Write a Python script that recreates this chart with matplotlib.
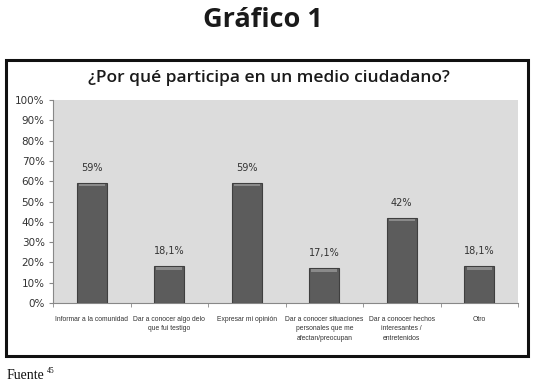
import matplotlib.pyplot as plt
from matplotlib.patches import Rectangle
import numpy as np

# data
categorias = [
    "Informar a la comunidad",
    "Dar a conocer algo delo\nque fui testigo",
    "Expresar mi opinión",
    "Dar a conocer situaciones\npersonales que me\nafectan/preocupan",
    "Dar a conocer hechos\ninteresantes /\nentretenidos",
    "Otro",
]
valores = [59, 18.1, 59, 17.1, 42, 18.1]
etiquetas = ["59%", "18,1%", "59%", "17,1%", "42%", "18,1%"]
yticks = list(range(0, 101, 10))

fig = plt.figure(figsize=(5.37, 3.89), dpi=100)
fig.patch.set_facecolor("white")

# page title
fig.text(0.49, 0.948, "Gráfico 1", ha="center", va="center",
         fontsize=19.5, fontweight="bold", family="Open Sans", color="#1a1a1a")

# black frame around the chart
frame = Rectangle((0.012, 0.085), 0.971, 0.761, transform=fig.transFigure,
                  fill=False, edgecolor="#111111", linewidth=2.2)
fig.patches.append(frame)

fig.text(0.5, 0.800, "¿Por qué participa en un medio ciudadano?", ha="center",
         va="center", fontsize=12.5, fontweight="semibold", family="Open Sans",
         color="#1a1a1a")

ax = fig.add_axes([0.0987, 0.221, 0.866, 0.522])
ax.set_facecolor("#dcdcdc")

x = np.arange(len(categorias))
ax.bar(x, valores, width=0.39, color="#5c5c5c", edgecolor="#3f3f3f",
       linewidth=0.8, zorder=3)
# lighter rounded cap like the original 3D bars
ax.bar(x, [1.2] * len(valores), bottom=np.array(valores) - 1.6, width=0.33,
       color="#8a8a8a", linewidth=0, zorder=4)

for xi, v, lab in zip(x, valores, etiquetas):
    ax.text(xi, v + 5, lab, ha="center", va="bottom", fontsize=7,
            family="DejaVu Sans", color="#333333")

ax.set_xlim(-0.5, len(categorias) - 0.5)
ax.set_ylim(0, 100)
ax.set_yticks(yticks)
ax.set_yticklabels([f"{t}%" for t in yticks], fontsize=7.5, color="#333333")

ax.set_xticks(x)
ax.set_xticklabels(categorias, fontsize=4.9, color="#333333", linespacing=1.5,
                   family="Liberation Sans")
ax.set_xticks(np.arange(-0.5, len(categorias)), minor=True)
ax.tick_params(axis="x", which="major", length=0, pad=9)
ax.tick_params(axis="x", which="minor", length=3, color="#888888")
ax.tick_params(axis="y", length=3, color="#888888", pad=3)

for s in ["top", "right"]:
    ax.spines[s].set_visible(False)
for s in ["left", "bottom"]:
    ax.spines[s].set_color("#888888")
    ax.spines[s].set_linewidth(0.8)

fig.text(0.012, 0.035, "Fuente", ha="left", va="center", fontsize=10,
         family="Liberation Serif", color="#111111")
fig.text(0.088, 0.045, "45", ha="left", va="center", fontsize=5.5,
         family="Liberation Serif", color="#111111")

plt.savefig("out.png", dpi=100)
